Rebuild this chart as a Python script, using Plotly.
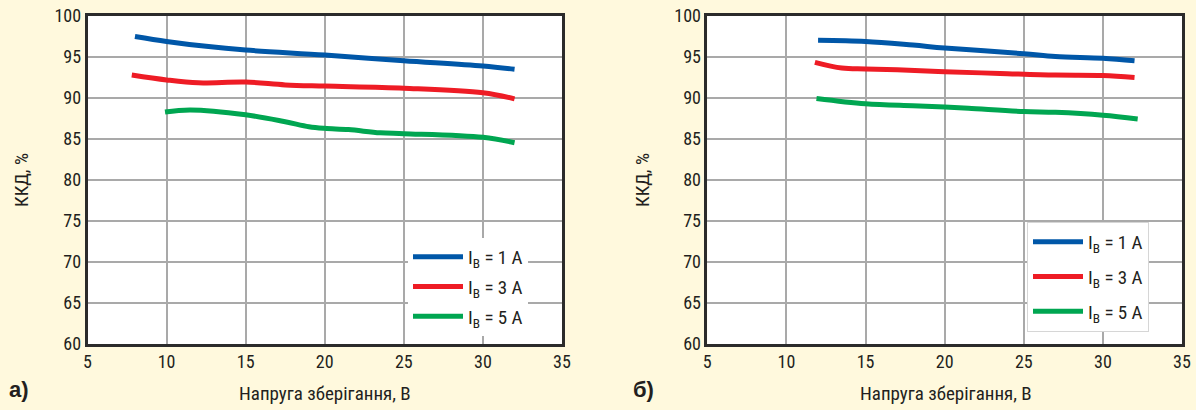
import plotly.graph_objects as go

# ---- data (left panel a) ----
a_blue_x = [8, 10, 12.5, 15, 20, 25, 30, 32]
a_blue_y = [97.5, 96.9, 96.3, 95.85, 95.24, 94.55, 93.9, 93.5]
a_red_x = [7.8, 10, 12, 15, 17.5, 20, 25, 30, 32]
a_red_y = [92.8, 92.2, 91.85, 91.95, 91.6, 91.45, 91.2, 90.65, 89.9]
a_green_x = [9.9, 11.5, 15, 17.5, 19, 20, 21.5, 23.5, 25, 30, 32]
a_green_y = [88.3, 88.55, 87.95, 87.1, 86.5, 86.3, 86.15, 85.75, 85.65, 85.2, 84.55]

# ---- data (right panel б) ----
b_blue_x = [12, 15, 18, 20, 25, 27, 30, 32]
b_blue_y = [97.05, 96.9, 96.45, 96.1, 95.4, 95.05, 94.85, 94.55]
b_red_x = [11.8, 13.5, 15, 17, 20, 23.5, 27, 30, 32]
b_red_y = [94.35, 93.65, 93.55, 93.45, 93.2, 93.0, 92.8, 92.75, 92.5]
b_green_x = [11.9, 15, 18, 20, 21.5, 25, 27, 30, 32.2]
b_green_y = [89.95, 89.3, 89.05, 88.9, 88.75, 88.35, 88.25, 87.9, 87.45]

series_names = ["I<sub>B</sub> = 1 A", "I<sub>B</sub> = 3 A", "I<sub>B</sub> = 5 A"]
colors = ["#0057A8", "#EE1C25", "#00A651"]

x_ticks = [5, 10, 15, 20, 25, 30, 35]
y_ticks = [60, 65, 70, 75, 80, 85, 90, 95, 100]
x_title = "Напруга зберігання, В"
y_title = "ККД, %"
panel_labels = ["а)", "б)"]

FONT = "Liberation Sans Narrow, Arial Narrow, Roboto Condensed, sans-serif"
TXT = "#231f20"

fig = go.Figure()

panels = [
    ([a_blue_x, a_red_x, a_green_x], [a_blue_y, a_red_y, a_green_y], "x", "y", "legend"),
    ([b_blue_x, b_red_x, b_green_x], [b_blue_y, b_red_y, b_green_y], "x2", "y2", "legend2"),
]
for p, (xs, ys, xa, ya, lg) in enumerate(panels):
    for i in range(3):
        fig.add_trace(go.Scatter(
            x=xs[i], y=ys[i], mode="lines", name=series_names[i],
            line=dict(color=colors[i], width=5, shape="spline", smoothing=1.0),
            xaxis=xa, yaxis=ya, legend=lg, legendgroup=f"{p}{i}",
            showlegend=True,
        ))

ydom = [1 - 344 / 410, 1 - 16 / 410]
xdom1 = [87.5 / 1196, 562 / 1196]
xdom2 = [707.3 / 1196, 1182 / 1196]

axis_common = dict(
    showline=True, mirror=True, linecolor="#2b2b2b", linewidth=2.5,
    showgrid=True, gridcolor="#a9a9a9", gridwidth=1.5,
    zeroline=False, ticks="", automargin=False,
    tickfont=dict(family=FONT, size=18, color=TXT),
)

fig.update_layout(
    width=1196, height=410, autosize=False,
    margin=dict(l=0, r=0, t=0, b=0, pad=0),
    paper_bgcolor="#FFF9DD", plot_bgcolor="#FFFFFF",
    font=dict(family=FONT, color=TXT),
    xaxis=dict(domain=xdom1, range=[5, 35], tickvals=x_ticks, anchor="y", **axis_common),
    yaxis=dict(domain=ydom, range=[60, 100], tickvals=y_ticks, anchor="x", **axis_common),
    xaxis2=dict(domain=xdom2, range=[5, 35], tickvals=x_ticks, anchor="y2", **axis_common),
    yaxis2=dict(domain=ydom, range=[60, 100], tickvals=y_ticks, anchor="x2", **axis_common),
    legend=dict(
        x=408 / 1196, y=1 - 238 / 410, xanchor="left", yanchor="top",
        bgcolor="#FFFFFF", borderwidth=0,
        font=dict(family=FONT, size=19, color=TXT),
        traceorder="grouped", tracegroupgap=2, itemwidth=50,
    ),
    legend2=dict(
        x=1027 / 1196, y=1 - 222 / 410, xanchor="left", yanchor="top",
        bgcolor="#FFFFFF", bordercolor="#d6d6d6", borderwidth=1,
        font=dict(family=FONT, size=19, color=TXT),
        traceorder="grouped", tracegroupgap=7, itemwidth=50,
    ),
)

annots = [
    dict(x=22 / 1196, y=1 - 180 / 410, text=y_title, textangle=-90),
    dict(x=643 / 1196, y=1 - 180 / 410, text=y_title, textangle=-90),
    dict(x=325 / 1196, y=1 - 393 / 410, text=x_title),
    dict(x=946 / 1196, y=1 - 393 / 410, text=x_title),
]
for a in annots:
    fig.add_annotation(xref="paper", yref="paper", showarrow=False,
                       xanchor="center", yanchor="middle",
                       font=dict(family=FONT, size=19, color=TXT), **a)

for txt, px in zip(panel_labels, [19, 643]):
    fig.add_annotation(xref="paper", yref="paper", showarrow=False,
                       x=px / 1196, y=1 - 389 / 410, xanchor="center", yanchor="middle",
                       text=f"<b>{txt}</b>",
                       font=dict(family="Liberation Sans, Arial, sans-serif", size=22, color=TXT))

fig.write_html(
    "out.html",
    config={"displayModeBar": False},
    post_script="document.body.style.margin='0';document.body.style.overflow='hidden';",
)
